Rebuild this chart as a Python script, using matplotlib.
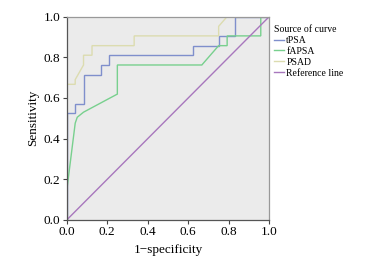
import matplotlib
matplotlib.use("Agg")
import matplotlib.pyplot as plt
from matplotlib.lines import Line2D

plt.rcParams['font.family'] = ['Liberation Serif', 'DejaVu Serif']

# ROC curve points (1-specificity, sensitivity)
tpsa_x = [0, 0, 0.042, 0.042, 0.083, 0.083, 0.167, 0.167, 0.208, 0.208, 0.625, 0.625, 0.75, 0.75, 0.833, 0.833, 1.0]
tpsa_y = [0, 0.524, 0.524, 0.571, 0.571, 0.714, 0.714, 0.762, 0.762, 0.810, 0.810, 0.857, 0.857, 0.905, 0.905, 1.0, 1.0]

fpsa_x = [0, 0, 0.042, 0.052, 0.083, 0.25, 0.25, 0.667, 0.75, 0.792, 0.792, 0.958, 0.958, 1.0]
fpsa_y = [0, 0.143, 0.476, 0.505, 0.530, 0.619, 0.762, 0.762, 0.857, 0.857, 0.905, 0.905, 1.0, 1.0]

psad_x = [0, 0, 0.042, 0.042, 0.083, 0.083, 0.125, 0.125, 0.333, 0.333, 0.75, 0.75, 0.792, 1.0]
psad_y = [0, 0.667, 0.667, 0.690, 0.762, 0.810, 0.810, 0.857, 0.857, 0.905, 0.905, 0.952, 1.0, 1.0]

ref_x = [0, 1]
ref_y = [0, 1]

labels = ["tPSA", "fAPSA", "PSAD", "Reference line"]
colors = ["#7f8fcc", "#78d08e", "#dcdcb0", "#a877bd"]

fig = plt.figure(figsize=(3.79, 2.63), dpi=100)
ax = fig.add_axes([0.176, 0.1635, 0.5345, 0.7735])
ax.set_facecolor("#ebebeb")

series = [(tpsa_x, tpsa_y), (fpsa_x, fpsa_y), (psad_x, psad_y), (ref_x, ref_y)]
for (xs, ys), c in zip(series, colors):
    ax.plot(xs, ys, color=c, lw=1.0, solid_joinstyle='miter')

ax.set_xlim(0, 1)
ax.set_ylim(0, 1)
ticks = [0.0, 0.2, 0.4, 0.6, 0.8, 1.0]
ax.set_xticks(ticks)
ax.set_yticks(ticks)
ax.set_xticklabels([f"{t:.1f}" for t in ticks], fontsize=9.5)
ax.set_yticklabels([f"{t:.1f}" for t in ticks], fontsize=9.5)
ax.tick_params(direction='out', length=3, width=0.8, color="#444444", pad=1.5)
for s in ['left', 'bottom']:
    ax.spines[s].set_color("#555555")
    ax.spines[s].set_linewidth(0.9)
for s in ['top', 'right']:
    ax.spines[s].set_color("#999999")
    ax.spines[s].set_linewidth(0.9)

ax.set_xlabel("1\u2212specificity", fontsize=9.5, labelpad=4)
ax.set_ylabel("Sensitivity", fontsize=9.5, labelpad=3)

handles = [Line2D([0], [0], color=c, lw=1.0) for c in colors]
leg = fig.legend(handles, labels, title="Source of curve", loc='upper left',
                 bbox_to_anchor=(0.722, 0.905), frameon=False, fontsize=7,
                 title_fontsize=7, handlelength=1.1, handletextpad=0.2,
                 labelspacing=0.2, borderaxespad=0, borderpad=0)
leg._legend_box.align = "left"

fig.savefig("out.png", dpi=100)
